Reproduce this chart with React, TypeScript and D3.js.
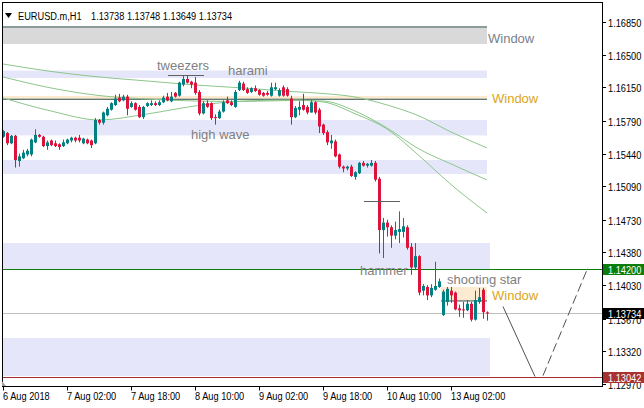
import React from "react";
import * as d3 from "d3";

const W = 644;
const H = 408;

// ---- data (EURUSD H1) ----
const opens = [
  1.1562,1.1566,1.1555,1.1563,1.1536,1.1539,1.1543,1.1543,1.1556,1.1564,
  1.1562,1.1552,1.1558,1.1555,1.1554,1.1552,1.1555,1.1558,1.1561,1.1561,
  1.1555,1.1559,1.1558,1.1555,1.1580,1.1577,1.1585,1.1591,1.1596,1.1604,
  1.1601,1.1605,1.1594,1.1598,1.1594,1.1583,1.1595,1.1596,1.1598,1.1596,
  1.1599,1.1605,1.1600,1.1609,1.1606,1.1618,1.1624,1.1621,1.1620,1.1610,
  1.1587,1.1598,1.1598,1.1583,1.1582,1.1589,1.1601,1.1599,1.1594,1.1612,
  1.1619,1.1613,1.1610,1.1614,1.1612,1.1609,1.1609,1.1606,1.1613,1.1606,
  1.1615,1.1613,1.1603,1.1583,1.1591,1.1596,1.1594,1.1588,1.1599,1.1591,
  1.1575,1.1567,1.1555,1.1557,1.1543,1.1530,1.1528,1.1530,1.1519,1.1523,
  1.1534,1.1531,1.1531,1.1534,1.1517,1.1462,1.1470,1.1465,1.1456,1.1460,
  1.1460,1.1465,1.1444,1.1422,1.1434,1.1397,1.1401,1.1392,1.1398,1.1401,
  1.1371,1.1385,1.1397,1.1395,1.1378,1.1377,1.1376,1.1383,1.1366,1.1385,
  1.1398,1.13738,
];
const highs = [
  1.1569,1.1567,1.1564,1.1564,1.1544,1.1548,1.1549,1.1560,1.1570,1.1565,
  1.1563,1.1558,1.1559,1.1558,1.1555,1.1559,1.1560,1.1562,1.1562,1.1564,
  1.1561,1.1560,1.1559,1.1582,1.1581,1.1589,1.1594,1.1599,1.1607,1.1608,
  1.1607,1.1607,1.1600,1.1599,1.1596,1.1595,1.1599,1.1601,1.1600,1.1601,
  1.1606,1.1609,1.1610,1.1610,1.1621,1.1628,1.1628,1.1622,1.1626,1.1612,
  1.1600,1.1601,1.1599,1.1586,1.1591,1.1601,1.1605,1.1601,1.1612,1.1622,
  1.1621,1.1615,1.1615,1.1617,1.1613,1.1610,1.1611,1.1620,1.1620,1.1614,
  1.1617,1.1615,1.1606,1.1595,1.1600,1.1608,1.1596,1.1601,1.1600,1.1593,
  1.1576,1.1569,1.1564,1.1559,1.1544,1.1531,1.1531,1.1532,1.1525,1.1535,
  1.1536,1.1534,1.1537,1.1536,1.1519,1.1475,1.1473,1.1467,1.1471,1.1482,
  1.1475,1.1467,1.1448,1.1448,1.1435,1.1404,1.1403,1.1404,1.1428,1.1410,
  1.1398,1.1401,1.1401,1.1396,1.1382,1.1385,1.1387,1.1385,1.1397,1.1400,
  1.1400,1.13748,
];
const lows = [
  1.1561,1.1553,1.1554,1.1529,1.1530,1.1538,1.1541,1.1541,1.1555,1.1561,
  1.1551,1.1548,1.1552,1.1551,1.1548,1.1551,1.1554,1.1556,1.1556,1.1556,
  1.1554,1.1554,1.1550,1.1554,1.1575,1.1575,1.1584,1.1590,1.1595,1.1599,
  1.1600,1.1585,1.1593,1.1590,1.1582,1.1581,1.1594,1.1595,1.1595,1.1595,
  1.1598,1.1600,1.1599,1.1604,1.1605,1.1616,1.1619,1.1614,1.1607,1.1585,
  1.1586,1.1593,1.1580,1.1575,1.1581,1.1588,1.1597,1.1595,1.1593,1.1611,
  1.1611,1.1608,1.1609,1.1610,1.1606,1.1605,1.1606,1.1605,1.1612,1.1605,
  1.1605,1.1605,1.1575,1.1582,1.1585,1.1590,1.1586,1.1588,1.1586,1.1566,
  1.1564,1.1553,1.1549,1.1540,1.1528,1.1524,1.1526,1.1519,1.1516,1.1522,
  1.1530,1.1529,1.1530,1.1514,1.1437,1.1432,1.1455,1.1443,1.1452,1.1448,
  1.1454,1.1441,1.1414,1.1419,1.1392,1.1392,1.1387,1.1390,1.1397,1.1400,
  1.1370,1.1381,1.1384,1.1376,1.1369,1.1368,1.1375,1.1364,1.1365,1.1383,
  1.1367,1.13649,
];
const closes = [
  1.1568,1.1555,1.1563,1.1537,1.1541,1.1545,1.1547,1.1559,1.1564,1.1562,
  1.1552,1.1556,1.1553,1.1552,1.1551,1.1556,1.1559,1.1561,1.1558,1.1558,
  1.1560,1.1555,1.1553,1.1580,1.1577,1.1588,1.1592,1.1598,1.1603,1.1600,
  1.1605,1.1592,1.1598,1.1591,1.1583,1.1594,1.1598,1.1598,1.1596,1.1599,
  1.1604,1.1601,1.1605,1.1605,1.1620,1.1624,1.1620,1.1618,1.1609,1.1587,
  1.1598,1.1594,1.1582,1.1582,1.1589,1.1599,1.1598,1.1596,1.1610,1.1620,
  1.1612,1.1609,1.1614,1.1611,1.1607,1.1606,1.1607,1.1615,1.1615,1.1612,
  1.1606,1.1606,1.1583,1.1593,1.1594,1.1591,1.1588,1.1599,1.1588,1.1573,
  1.1566,1.1556,1.1558,1.1541,1.1530,1.1528,1.1530,1.1520,1.1524,1.1534,
  1.1531,1.1533,1.1534,1.1516,1.1462,1.1470,1.1465,1.1456,1.1462,1.1463,
  1.1466,1.1443,1.1422,1.1434,1.1395,1.1402,1.1392,1.1400,1.1402,1.1407,
  1.1396,1.1399,1.1392,1.1377,1.1376,1.1376,1.1383,1.1366,1.1387,1.1390,
  1.1374,1.13734,
];

const xTickIdx = [0, 16, 32, 48, 64, 80, 96, 112];
const xTickLabels = [
  "6 Aug 2018", "7 Aug 02:00", "7 Aug 18:00", "8 Aug 10:00",
  "9 Aug 02:00", "9 Aug 18:00", "10 Aug 10:00", "13 Aug 02:00",
];
const yTicks = [1.1685, 1.165, 1.1615, 1.1579, 1.1544, 1.1509, 1.1473, 1.1438, 1.1403, 1.1367, 1.1332, 1.1297];

// moving averages (read at sample bars)
const maIdx = [0, 12, 24, 36, 48, 60, 72, 80, 88, 96, 104, 112, 121];
const maSlow = [1.164, 1.1632, 1.16261, 1.16218, 1.16175, 1.16143, 1.16105, 1.16084, 1.16046, 1.15961, 1.15843, 1.15671, 1.155];
const maMid = [1.16261, 1.16143, 1.16062, 1.16025, 1.16003, 1.15998, 1.16009, 1.16003, 1.15896, 1.15714, 1.15489, 1.15329, 1.15157];
const maFast = [1.16036, 1.15896, 1.158, 1.15864, 1.1595, 1.16003, 1.16014, 1.15993, 1.15867, 1.15703, 1.15418, 1.15108, 1.14803];

// zones
const lavenderTop = [1.1633, 1.15800, 1.15371, 1.14482, 1.13463];
const lavenderBottom = [1.1625, 1.15634, 1.15221, 1.14203, 1.13056];
const lavenderEnd = [121, 121, 121, 121.75, 121.75];

// price lines
const linePrices = [1.142, 1.13734, 1.13042];
const lineLabels = ["1.14200", "1.13734", "1.13042"];
const lineColors = ["#0b7d0b", "#c0c0c0", "#a52a2a"];
const lineBoxColors = ["#0b7d0b", "#000000", "#a83232"];

// projection lines
const projIdxA = [125, 133];
const projPriceA = [1.138, 1.1305];
const projIdxB = [135, 146.25];
const projPriceB = [1.1306, 1.1422];

// pattern annotations
const patNames = ["tweezers", "harami", "high wave", "hammer", "shooting star"];
const patIdx = [38.5, 56.25, 47, 89.25, 111];
const patPrice = [1.16336, 1.16282, 1.15591, 1.14139, 1.14042];
const patLineFrom = [41.25, 90.25];
const patLineTo = [50.25, 99.25];
const patLinePrice = [1.16282, 1.14932];

const axisFont = "'Liberation Sans', Arial, sans-serif";
const textFont = "'Liberation Sans', Arial, sans-serif";

function NText({ x, y, fill, children }: { x: number; y: number; fill: string; children: React.ReactNode }) {
  return (
    <text transform={`translate(${x},${y}) scale(0.84,1)`} fontFamily={axisFont} fontSize={11} fill={fill}>
      {children}
    </text>
  );
}

export default function App() {
  const left = 2, right = 602, top = 2, bottom = 386.5;
  const x = d3.scaleLinear().domain([0, 1]).range([3, 7]);
  const y = d3.scaleLinear().domain([1.1297, 1.1685]).range([384, 22]);

  const maLine = (vals: number[]) =>
    d3.line<number>().x((_, i) => x(maIdx[i])).y((v) => y(v)).curve(d3.curveMonotoneX)(vals) || "";

  const zoneRight = x(121);

  const candles = opens.map((o, i) => {
    const c = closes[i];
    const up = c >= o;
    const col = up ? "#008080" : "#dc143c";
    const xc = Math.round(x(i));
    const yTop = y(Math.max(o, c));
    const yBot = y(Math.min(o, c));
    return (
      <g key={i}>
        <line x1={xc + 0.5} x2={xc + 0.5} y1={y(highs[i])} y2={y(lows[i])} stroke={col} strokeWidth={1} />
        <rect x={xc - 1} y={yTop} width={3} height={Math.max(1, yBot - yTop)} fill={col} />
      </g>
    );
  });

  return (
    <svg width={W} height={H} style={{ position: "absolute", left: 0, top: 0, background: "#fff" }}>
      <defs>
        <clipPath id="plot">
          <rect x={left} y={top} width={right - left} height={bottom - top} />
        </clipPath>
      </defs>
      <rect x={0} y={0} width={W} height={H} fill="#fff" />
      <g clipPath="url(#plot)">
        {/* gray window */}
        <rect x={left} y={y(1.16797)} width={zoneRight - left} height={y(1.16614) - y(1.16797)} fill="#d9d9d9" />
        <line x1={left} x2={zoneRight} y1={y(1.16797)} y2={y(1.16797)} stroke="#2f4f4f" strokeWidth={1} />
        {/* lavender zones */}
        {lavenderTop.map((t, i) => (
          <rect key={i} x={left} y={y(t)} width={x(lavenderEnd[i]) - left} height={y(lavenderBottom[i]) - y(t)} fill="#e6e6fa" />
        ))}
        {/* wheat windows */}
        <rect x={left} y={y(1.16057)} width={zoneRight - left} height={y(1.16022) - y(1.16057)} fill="#fcebd0" />
        <line x1={left} x2={zoneRight} y1={y(1.16022)} y2={y(1.16022)} stroke="#2f4f4f" strokeWidth={1} />
        <rect x={x(109.5)} y={y(1.1401)} width={zoneRight - x(109.5)} height={y(1.1386) - y(1.1401)} fill="#fcebd0" />
        <line x1={x(109.5)} x2={zoneRight} y1={y(1.1386)} y2={y(1.1386)} stroke="#2f4f4f" strokeWidth={1} />

        {/* price lines */}
        {linePrices.map((p, i) => (
          <line key={i} x1={left} x2={right} y1={Math.round(y(p)) + 0.5} y2={Math.round(y(p)) + 0.5} stroke={lineColors[i]} strokeWidth={1} />
        ))}

        {/* moving averages */}
        <path d={maLine(maSlow)} fill="none" stroke="#8cc68c" strokeWidth={1} />
        <path d={maLine(maMid)} fill="none" stroke="#8cc68c" strokeWidth={1} />
        <path d={maLine(maFast)} fill="none" stroke="#8cc68c" strokeWidth={1} />

        {candles}

        {/* pattern lines */}
        {patLineFrom.map((f, i) => (
          <line key={i} x1={x(f)} x2={x(patLineTo[i])} y1={Math.round(y(patLinePrice[i])) + 0.5} y2={Math.round(y(patLinePrice[i])) + 0.5} stroke="#606060" strokeWidth={1} />
        ))}

        {/* projection */}
        <line x1={x(projIdxA[0])} y1={y(projPriceA[0])} x2={x(projIdxA[1])} y2={y(projPriceA[1])} stroke="#505050" strokeWidth={1} />
        <line x1={x(projIdxB[0])} y1={y(projPriceB[0])} x2={x(projIdxB[1])} y2={y(projPriceB[1])} stroke="#505050" strokeWidth={1} strokeDasharray="9,4" />

        {/* annotations */}
        {patNames.map((n, i) => (
          <text key={n} x={x(patIdx[i])} y={y(patPrice[i])} fontFamily={textFont} fontSize={13} fill="#808080">{n}</text>
        ))}
        <text x={x(121.25)} y={y(1.16625)} fontFamily={textFont} fontSize={13} fill="#7a7f8c">Window</text>
        <text x={x(122.25)} y={y(1.15982)} fontFamily={textFont} fontSize={13} fill="#daa520">Window</text>
        <text x={x(122.25)} y={y(1.13871)} fontFamily={textFont} fontSize={13} fill="#daa520">Window</text>
      </g>

      {/* title */}
      <path d="M5,13 L12,13 L8.5,18 Z" fill="#000" />
      <NText x={18} y={20} fill="#000">EURUSD.m,H1</NText>
      <NText x={91} y={20} fill="#000">1.13738 1.13748 1.13649 1.13734</NText>

      {/* frame */}
      <rect x={left + 0.5} y={top + 0.5} width={right - left} height={bottom - top - 0.5} fill="none" stroke="#000" strokeWidth={1} />
      <path d="M2,381 L6,386 L2,386 Z" fill="#a0a0a0" />

      {/* y axis */}
      {yTicks.map((t) => {
        const yy = Math.round(y(t)) + 0.5;
        return (
          <g key={t}>
            <line x1={right} x2={right + 4} y1={yy} y2={yy} stroke="#000" />
            <NText x={right + 6} y={yy + 4} fill="#000">{t.toFixed(5)}</NText>
          </g>
        );
      })}
      {linePrices.map((p, i) => {
        const yy = Math.round(y(p)) + 0.5;
        return (
          <g key={"b" + i}>
            <rect x={right + 1} y={yy - 5.5} width={W - right - 1} height={11} fill={lineBoxColors[i]} />
            <NText x={right + 6} y={yy + 4} fill="#fff">{lineLabels[i]}</NText>
          </g>
        );
      })}

      {/* x axis */}
      {xTickIdx.map((idx, i) => {
        const xx = Math.round(x(idx)) + 0.5;
        return (
          <g key={idx}>
            <line x1={xx} x2={xx} y1={bottom} y2={bottom + 4} stroke="#000" />
            <NText x={xx - 0.5} y={400} fill="#000">{xTickLabels[i]}</NText>
          </g>
        );
      })}
    </svg>
  );
}
